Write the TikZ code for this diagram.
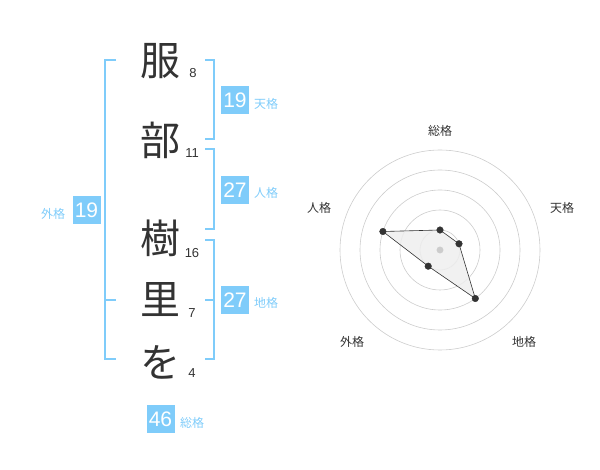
\documentclass[tikz,border=0pt]{standalone}
\usepackage{fontspec}
\setmainfont{Liberation Sans}
\newfontfamily\jpfont{Noto Sans CJK JP}
\definecolor{kakublue}{RGB}{127,204,250}
\definecolor{ink}{RGB}{51,51,51}
\definecolor{ringgray}{RGB}{204,204,204}
\definecolor{polyfill}{RGB}{238,238,238}

\begin{document}
\begin{tikzpicture}[%
      x=1pt, y=-1pt,
      kanji/.style={text=ink, inner sep=0pt, font=\jpfont\fontsize{40}{40}\selectfont},
      stroke/.style={text=ink, inner sep=0pt, font=\fontsize{13}{13}\selectfont},
      kbox/.style={fill=kakublue, text=white, inner sep=0pt, minimum size=28pt,
                   font=\fontsize{21}{21}\selectfont},
      klabel/.style={text=kakublue, inner sep=0pt, font=\jpfont\fontsize{12}{12}\selectfont},
      brk/.style={draw=kakublue, line width=1.6pt},
      ring/.style={draw=ringgray, line width=0.6pt},
      rlabel/.style={text=ink, inner sep=0pt, font=\jpfont\fontsize{12}{12}\selectfont},
      ]
      \useasboundingbox (0,0) rectangle (600,470);

      % name
      \node [kanji] (k1) at (160,61) {服};
      \node [kanji] (k2) at (160,140) {部};
      \node [kanji] (k3) at (160,238) {樹};
      \node [kanji] (k4) at (160,300) {里};
      \node [kanji] (k5) at (160,362) {を};

      \node [stroke] (s1) at (193,73) {8};
      \node [stroke] (s2) at (192,153) {11};
      \node [stroke] (s3) at (192,253) {16};
      \node [stroke] (s4) at (192,313) {7};
      \node [stroke] (s5) at (192,373) {4};

      % brackets
      \coordinate (ga1) at (116,60);  \coordinate (ga2) at (105,60);
      \coordinate (ga3) at (105,359); \coordinate (ga4) at (116,359);
      \coordinate (gam) at (105,300); \coordinate (gat) at (116,300);
      \draw [brk] (ga1) -- (ga2) -- (ga3) -- (ga4);
      \draw [brk] (gam) -- (gat);

      \coordinate (te1) at (205,60);  \coordinate (te2) at (214,60);
      \coordinate (te3) at (214,139); \coordinate (te4) at (205,139);
      \draw [brk] (te1) -- (te2) -- (te3) -- (te4);

      \coordinate (ji1) at (205,149); \coordinate (ji2) at (214,149);
      \coordinate (ji3) at (214,229); \coordinate (ji4) at (205,229);
      \draw [brk] (ji1) -- (ji2) -- (ji3) -- (ji4);

      \coordinate (ch1) at (205,240); \coordinate (ch2) at (214,240);
      \coordinate (ch3) at (214,359); \coordinate (ch4) at (205,359);
      \coordinate (chm) at (214,300); \coordinate (cht) at (205,300);
      \draw [brk] (ch1) -- (ch2) -- (ch3) -- (ch4);
      \draw [brk] (chm) -- (cht);

      % boxes
      \node [kbox] (bgai) at (86.5,210) {19};
      \node [klabel] (lgai) at (53,214) {外格};
      \node [kbox] (bten) at (235,100.5) {19};
      \node [klabel] (lten) at (266,104) {天格};
      \node [kbox] (bjin) at (235,190) {27};
      \node [klabel] (ljin) at (266,193) {人格};
      \node [kbox] (bchi) at (235,300.5) {27};
      \node [klabel] (lchi) at (266,303) {地格};
      \node [kbox] (bsou) at (160.5,419) {46};
      \node [klabel] (lsou) at (192,423) {総格};

      % radar
      \coordinate (c) at (440,250);
      \foreach \r in {20,40,...,100}
        \draw [ring] (c) circle (\r pt);

      \coordinate (p1) at (440,230);
      \coordinate (p2) at (459.0,243.8);
      \coordinate (p3) at (475.3,298.5);
      \coordinate (p4) at (428.2,266.2);
      \coordinate (p5) at (382.9,231.5);
      \filldraw [fill=polyfill, fill opacity=0.85, draw=ink, line width=0.6pt]
        (p1) -- (p2) -- (p3) -- (p4) -- (p5) -- cycle;
      \filldraw [color=ringgray] (c) circle (3.2pt);
      \foreach \p in {p1,p2,p3,p4,p5}
        \filldraw [color=ink] (\p) circle (3.3pt);

      \node [rlabel] (rsou) at (440,131) {総格};
      \node [rlabel] (rten) at (562,208) {天格};
      \node [rlabel] (rchi) at (524,342) {地格};
      \node [rlabel] (rgai) at (352,342) {外格};
      \node [rlabel] (rjin) at (319,208) {人格};
      \end{tikzpicture}
\end{document}
